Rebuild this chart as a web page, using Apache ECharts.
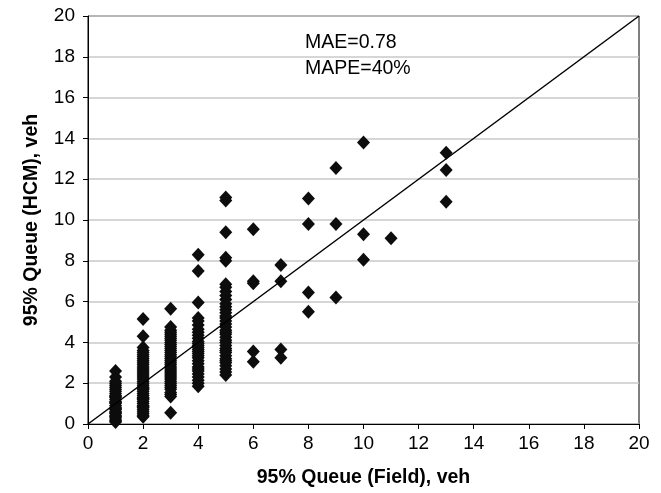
<!DOCTYPE html>
<html>
<head>
<meta charset="utf-8">
<script src="https://cdn.jsdelivr.net/npm/echarts@6/dist/echarts.min.js"></script>
<style>html,body{margin:0;padding:0;background:#fff}#c{width:661px;height:493px}</style>
</head>
<body>
<div id="c"></div>
<script>
// HCM 95% queue values observed at each field value
var field1 = [0.1, 0.15, 0.2, 0.3, 0.35, 0.4, 0.5, 0.55, 0.6, 0.7, 0.75, 0.8, 0.9, 1.0, 1.05, 1.1, 1.2, 1.3, 1.35, 1.4, 1.5, 1.6, 1.7, 1.8, 1.9, 2.0, 2.1, 2.3, 2.6];
var field2 = [0.35, 0.4, 0.5, 0.6, 0.7, 0.8, 0.85, 0.9, 1.0, 1.1, 1.2, 1.25, 1.3, 1.4, 1.5, 1.6, 1.7, 1.75, 1.8, 1.9, 2.0, 2.1, 2.2, 2.3, 2.4, 2.5, 2.6, 2.7, 2.8, 2.9, 3.0, 3.1, 3.2, 3.3, 3.4, 3.5, 3.6, 3.75, 4.3, 5.15];
var field3 = [0.55, 1.35, 1.45, 1.55, 1.7, 1.8, 1.9, 2.0, 2.1, 2.2, 2.3, 2.4, 2.5, 2.6, 2.7, 2.8, 2.9, 3.0, 3.1, 3.2, 3.3, 3.4, 3.5, 3.6, 3.7, 3.8, 3.9, 4.0, 4.1, 4.2, 4.3, 4.4, 4.5, 4.6, 4.75, 5.65];
var field4 = [1.85, 2.0, 2.15, 2.3, 2.45, 2.6, 2.7, 2.8, 2.95, 3.1, 3.25, 3.35, 3.45, 3.55, 3.65, 3.75, 3.85, 3.95, 4.05, 4.2, 4.35, 4.5, 4.65, 4.85, 5.05, 5.2, 5.95, 7.5, 8.3];
var field5 = [2.4, 2.55, 2.7, 2.85, 3.0, 3.1, 3.2, 3.35, 3.5, 3.6, 3.7, 3.85, 4.0, 4.1, 4.25, 4.4, 4.5, 4.6, 4.75, 4.9, 5.05, 5.2, 5.3, 5.45, 5.6, 5.75, 5.9, 6.1, 6.3, 6.5, 6.7, 6.85, 8.0, 8.15, 9.4, 10.95, 11.1];
// sparse points at higher field values: [field, HCM]
var highPoints = [[6, 9.55], [6, 7.0], [6, 6.9], [6, 3.55], [6, 3.05],
  [7, 7.8], [7, 7.0], [7, 3.65], [7, 3.25],
  [8, 11.05], [8, 9.8], [8, 6.45], [8, 5.5],
  [9, 12.55], [9, 9.8], [9, 6.2],
  [10, 13.8], [10, 9.3], [10, 8.05],
  [11, 9.1],
  [13, 13.3], [13, 12.45], [13, 10.9]];
var equalityLine = [[0, 0], [20, 20]];
var tickValues = [0, 2, 4, 6, 8, 10, 12, 14, 16, 18, 20];
var statLines = ['MAE=0.78', 'MAPE=40%'];

var points = [];
[[1, field1], [2, field2], [3, field3], [4, field4], [5, field5]].forEach(function (p) {
  p[1].forEach(function (v) { points.push([p[0], v]); });
});
highPoints.forEach(function (p) { points.push(p); });

var font = 'Liberation Sans, Arial, sans-serif';
var chart = echarts.init(document.getElementById('c'), null, {renderer: 'canvas'});
chart.setOption({
  animation: false,
  backgroundColor: '#fff',
  grid: {left: 88, right: 22, top: 16, bottom: 69, show: true, borderColor: '#000', borderWidth: 1, backgroundColor: 'transparent'},
  xAxis: {
    type: 'value', min: tickValues[0], max: tickValues[tickValues.length - 1], interval: 2,
    name: '95% Queue (Field), veh', nameLocation: 'middle', nameGap: 44,
    nameTextStyle: {fontFamily: font, fontWeight: 'bold', fontSize: 19.5, color: '#000'},
    axisLine: {lineStyle: {color: '#000', width: 1}},
    axisTick: {show: true, length: 5, lineStyle: {color: '#000'}},
    axisLabel: {fontFamily: font, fontSize: 19, color: '#000', margin: 10},
    splitLine: {show: false}
  },
  yAxis: {
    type: 'value', min: tickValues[0], max: tickValues[tickValues.length - 1], interval: 2,
    name: '95% Queue (HCM), veh', nameLocation: 'middle', nameGap: 46, nameRotate: 90,
    nameTextStyle: {fontFamily: font, fontWeight: 'bold', fontSize: 19.5, color: '#000'},
    axisLine: {show: true, lineStyle: {color: '#000', width: 1}},
    axisTick: {show: true, length: 5, lineStyle: {color: '#000'}},
    axisLabel: {fontFamily: font, fontSize: 19, color: '#000', margin: 13},
    splitLine: {show: true, lineStyle: {color: '#c8c8c8', width: 1.5}}
  },
  graphic: [
    {type: 'text', left: 305, top: 33, style: {text: statLines[0], font: '19.5px ' + font, fill: '#000'}},
    {type: 'text', left: 305, top: 59, style: {text: statLines[1], font: '19.5px ' + font, fill: '#000'}}
  ],
  series: [
    {type: 'line', data: equalityLine, showSymbol: false, symbol: 'none', lineStyle: {color: '#000', width: 1.5}, z: 3},
    {type: 'scatter', data: points, symbol: 'diamond', symbolSize: [13, 14], itemStyle: {color: '#0d0d0d', opacity: 1}, z: 2}
  ]
});
</script>
</body>
</html>
